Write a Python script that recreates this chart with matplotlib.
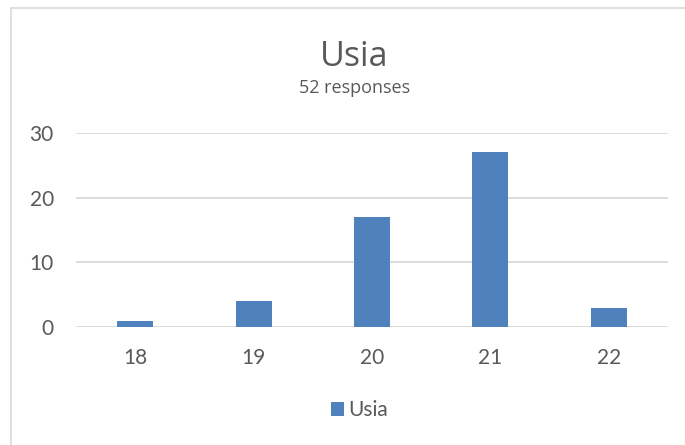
import matplotlib.pyplot as plt
from matplotlib.patches import Rectangle

# data
ages = ["18", "19", "20", "21", "22"]
counts = [1, 4, 17, 27, 3]
title = "Usia"
subtitle = "52 responses"

bar_color = "#4f81bd"
text_color = "#595959"
grid_color = "#d9d9d9"

fig = plt.figure(figsize=(6.85, 4.45), dpi=100)
ax = fig.add_axes([0.111, 0.265, 0.864, 0.436])

x = range(len(ages))
ax.bar(x, counts, width=0.305, color=bar_color, label="Usia", zorder=3)

ax.set_xlim(-0.5, len(ages) - 0.5)
ax.set_ylim(0, 30)
ax.set_yticks([0, 10, 20, 30])
ax.set_xticks(list(x))
ax.set_xticklabels(ages)

ax.grid(axis="y", color=grid_color, linewidth=1.3, zorder=0)
for s in ax.spines.values():
    s.set_visible(False)
ax.tick_params(length=0, labelsize=15, colors=text_color, pad=15)
ax.tick_params(axis="y", pad=16)
for lab in ax.get_xticklabels() + ax.get_yticklabels():
    lab.set_fontfamily("Lato")

# titles
fig.text(0.517, 0.873, title, ha="center", va="center", fontsize=24.5,
         color=text_color, family="Open Sans")
fig.text(0.517, 0.802, subtitle, ha="center", va="center", fontsize=13,
         color=text_color, family="Open Sans")

# legend
leg = fig.legend(loc="center", bbox_to_anchor=(0.525, 0.078), frameon=False,
                 prop={"family": "Lato", "size": 15}, handlelength=0.65,
                 handleheight=0.65, handletextpad=0.2)
for t in leg.get_texts():
    t.set_color(text_color)

# outer frame (only top and left visible in crop)
fig.add_artist(Rectangle((11 / 685, -0.1), 1.2, 1.1 - 8 / 445,
                         transform=fig.transFigure, fill=False,
                         edgecolor=grid_color, linewidth=1.2))

fig.savefig("out.png", dpi=100)
